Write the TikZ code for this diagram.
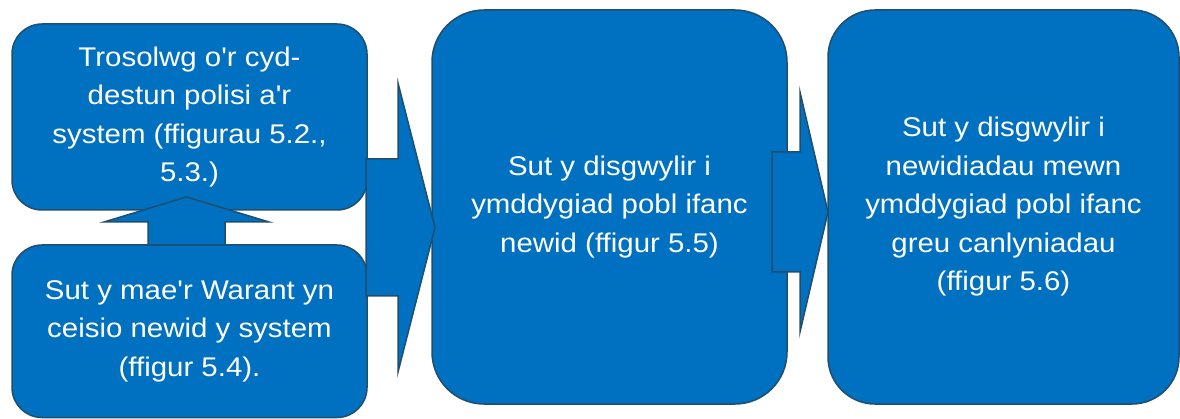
\documentclass[tikz,border=0pt]{standalone}
\usepackage{fontspec}
\setmainfont{Liberation Sans}[FakeStretch=1.09, Ligatures=TeXOff]
\definecolor{boxfill}{HTML}{0070C0}
\definecolor{boxline}{HTML}{1F4E6E}
\begin{document}
\begin{tikzpicture}[x=1pt,y=-1pt,
  box/.style={draw=boxline, fill=boxfill, line width=1.5pt, text=white,
    align=center, font=\fontsize{27}{38.5}\selectfont, inner sep=0pt},
  blockarrow/.style={draw=boxline, fill=boxfill, line width=1.5pt, line join=miter}]
\useasboundingbox (0,0) rectangle (1180,419);
% large boxes
\node[box, rounded corners=52pt, minimum width=355pt, minimum height=394pt] (c) at (609.5,207)
  {Sut y disgwylir i\\ymddygiad pobl ifanc\\newid (ffigur 5.5)};
\node[box, rounded corners=47pt, minimum width=351pt, minimum height=394pt] (d) at (1003.5,207)
  {Sut y disgwylir i\\newidiadau mewn\\ymddygiad pobl ifanc\\greu canlyniadau\\(ffigur 5.6)};
% left boxes
\node[box, rounded corners=30pt, minimum width=355pt, minimum height=186pt] (a) at (189.5,117)
  {Trosolwg o'r cyd-\\destun polisi a'r\\system (ffigurau 5.2.,\\5.3.)};
\node[box, rounded corners=30pt, minimum width=355pt, minimum height=172.5pt] (b) at (189.5,331.25)
  {Sut y mae'r Warant yn\\ceisio newid y system\\(ffigur 5.4).};
% block arrows
\draw[blockarrow] (366,159) -- (398,159) -- (398,83) -- (435,227.5) -- (398,372) -- (398,296) -- (366,296) -- cycle;
\draw[blockarrow] (148,245) -- (148,222) -- (104,222) -- (186.5,197) -- (269,222) -- (225,222) -- (225,245) -- cycle;
\draw[blockarrow] (772,152) -- (800,152) -- (800,92) -- (828,212) -- (800,332) -- (800,272) -- (772,272) -- cycle;
\end{tikzpicture}
\end{document}
